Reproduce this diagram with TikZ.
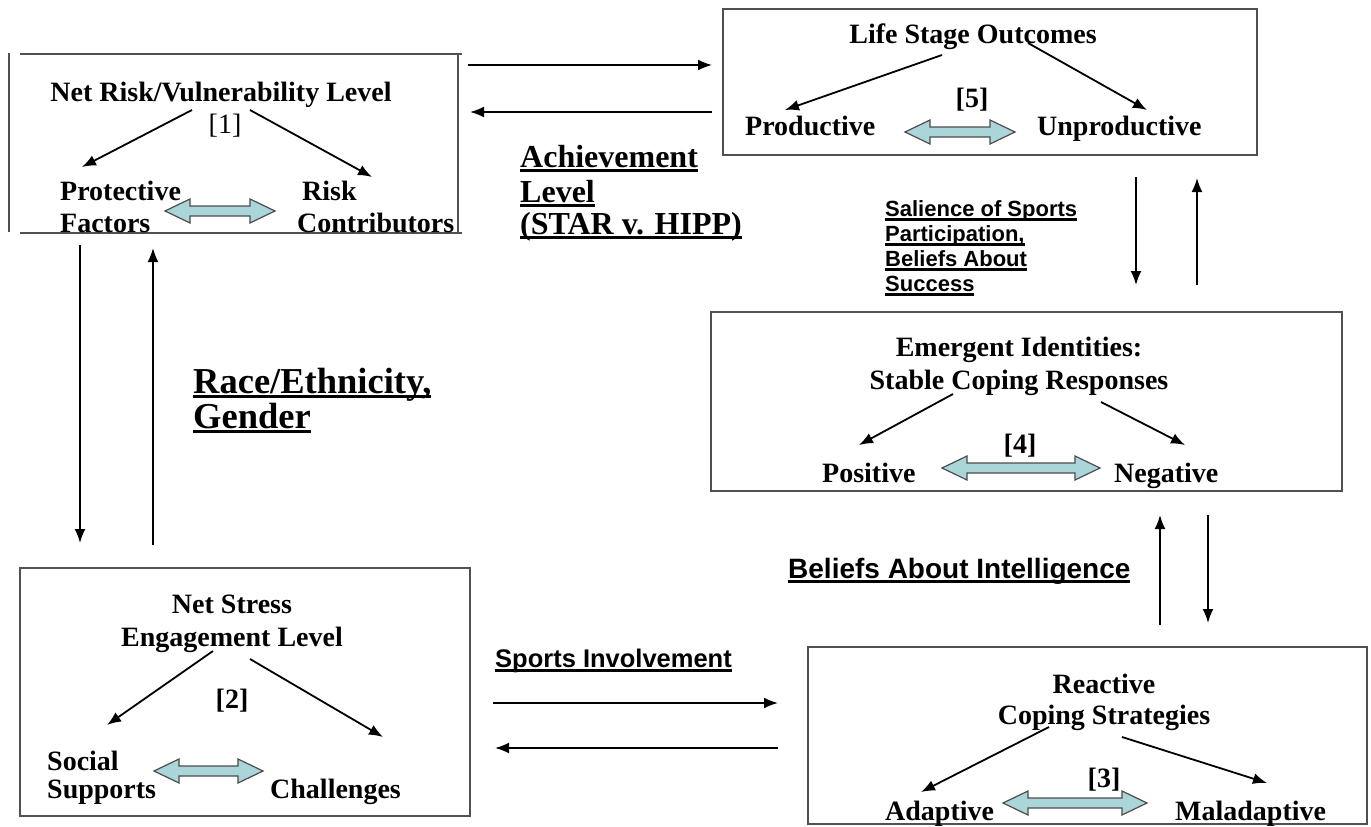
\documentclass[tikz,border=0pt]{standalone}
\usepackage{fontspec}
\setmainfont{Liberation Serif}
\setsansfont{Liberation Sans}
\usetikzlibrary{arrows.meta}
\newcommand{\myul}[1]{\leavevmode\setbox0\hbox{#1}\rlap{\vrule height -2.4pt depth 4.6pt width \wd0}\box0}
\definecolor{blockfill}{RGB}{170,214,218}
\definecolor{boxgray}{RGB}{80,80,80}
% x0, x1, y
\newcommand{\blockarrow}[3]{%
  \draw[blockarr] (#1,#3) -- (#1+25,#3-12) -- (#1+25,#3-5) -- (#2-25,#3-5) -- (#2-25,#3-12) -- (#2,#3)
   -- (#2-25,#3+12) -- (#2-25,#3+5) -- (#1+25,#3+5) -- (#1+25,#3+12) -- cycle;}
\begin{document}
\begin{tikzpicture}[x=1pt,y=-1pt,
  boxline/.style={draw=boxgray, line width=1.8pt},
  boxnode/.style={boxline, rectangle, inner sep=0pt},
  arr/.style={line width=1.8pt, -{Latex[length=14pt,width=11pt]}},
  blockarr/.style={draw=black!70, line width=1.2pt, fill=blockfill, line join=miter},
  ttl/.style={font=\fontsize{28}{34}\selectfont\bfseries, inner sep=0pt, anchor=base},
  lbl/.style={font=\fontsize{28}{34}\selectfont\bfseries, inner sep=0pt, anchor=base west},
  num/.style={font=\fontsize{28}{34}\selectfont, inner sep=0pt, anchor=base},
  serlab/.style={inner sep=0pt, anchor=base west},
  sanslab/.style={inner sep=0pt, anchor=base west}
]
\useasboundingbox (0,0) rectangle (1371,827);

% ---------- Box 1: Net Risk ----------
\node[inner sep=0pt, minimum width=438pt, minimum height=179pt] (b1) at (239,143.5) {};
\draw[boxline] (20,54) -- (462,54);
\draw[boxline] (20,233) -- (462,233);
\draw[boxline] (9,53) -- (9,232);
\draw[boxline] (458,53) -- (458,233);
\node[ttl] (b1t) at (221,101) {Net Risk/Vulnerability Level};
\node[num] (b1n) at (225,133) {[1]};
\node[lbl] (b1l1) at (60,200) {Protective};
\node[lbl] (b1l2) at (60,232) {Factors};
\node[lbl] (b1r1) at (302,200) {Risk};
\node[lbl] (b1r2) at (297,232) {Contributors};
\coordinate (b1a1) at (192,110); \coordinate (b1a2) at (82,167);
\coordinate (b1a3) at (250,110); \coordinate (b1a4) at (372,177);
\draw[arr] (b1a1) -- (b1a2);
\draw[arr] (b1a3) -- (b1a4);
\blockarrow{165}{275}{211}

% ---------- Box 2: Life Stage ----------
\node[boxnode, minimum width=534pt, minimum height=146pt] (b2) at (990,82) {};
\node[ttl] (b2t) at (973,43) {Life Stage Outcomes};
\node[ttl] (b2n) at (972,107) {[5]};
\node[lbl] (b2l) at (745,135) {Productive};
\node[lbl] (b2r) at (1037,135) {Unproductive};
\coordinate (b2a1) at (942,55); \coordinate (b2a2) at (785,110);
\coordinate (b2a3) at (1028,43); \coordinate (b2a4) at (1147,110);
\draw[arr] (b2a1) -- (b2a2);
\draw[arr] (b2a3) -- (b2a4);
\blockarrow{905}{1015}{132}

% ---------- Box 3: Emergent Identities ----------
\node[boxnode, minimum width=631pt, minimum height=179pt] (b3) at (1026.5,401.5) {};
\node[ttl] (b3t1) at (1019,356) {Emergent Identities:};
\node[ttl] (b3t2) at (1019,389) {Stable Coping Responses};
\node[ttl] (b3n) at (1020,453) {[4]};
\node[lbl] (b3l) at (822,482) {Positive};
\node[lbl] (b3r) at (1114,482) {Negative};
\coordinate (b3a1) at (953,394); \coordinate (b3a2) at (859,445);
\coordinate (b3a3) at (1101,402); \coordinate (b3a4) at (1185,445);
\draw[arr] (b3a1) -- (b3a2);
\draw[arr] (b3a3) -- (b3a4);
\blockarrow{942}{1100}{468}

% ---------- Box 4: Net Stress ----------
\node[boxnode, minimum width=450pt, minimum height=248pt] (b4) at (245,692) {};
\node[ttl] (b4t1) at (232,613) {Net Stress};
\node[ttl] (b4t2) at (232,646) {Engagement Level};
\node[ttl] (b4n) at (232,708) {[2]};
\node[lbl] (b4l1) at (47,770) {Social};
\node[lbl] (b4l2) at (47,798) {Supports};
\node[lbl] (b4r) at (270,798) {Challenges};
\coordinate (b4a1) at (213,651); \coordinate (b4a2) at (107,725);
\coordinate (b4a3) at (250,659); \coordinate (b4a4) at (383,737);
\draw[arr] (b4a1) -- (b4a2);
\draw[arr] (b4a3) -- (b4a4);
\blockarrow{154}{263}{771}

% ---------- Box 5: Reactive Coping ----------
\node[boxnode, minimum width=559pt, minimum height=177pt] (b5) at (1087.5,735.5) {};
\node[ttl] (b5t1) at (1104,693) {Reactive};
\node[ttl] (b5t2) at (1104,724) {Coping Strategies};
\node[ttl] (b5n) at (1104,787) {[3]};
\node[lbl] (b5l) at (885,820) {Adaptive};
\node[lbl] (b5r) at (1175,820) {Maladaptive};
\coordinate (b5a1) at (1049,727); \coordinate (b5a2) at (921,792);
\coordinate (b5a3) at (1122,737); \coordinate (b5a4) at (1267,783);
\draw[arr] (b5a1) -- (b5a2);
\draw[arr] (b5a3) -- (b5a4);
\blockarrow{1003}{1147}{803}

% ---------- Connectors between boxes ----------
\coordinate (c1a) at (468,65);  \coordinate (c1b) at (712,65);
\coordinate (c2a) at (712,112); \coordinate (c2b) at (470,112);
\coordinate (c3a) at (80,245);  \coordinate (c3b) at (80,543);
\coordinate (c4a) at (153,545); \coordinate (c4b) at (153,248);
\coordinate (c5a) at (1136,177); \coordinate (c5b) at (1136,285);
\coordinate (c6a) at (1197,285); \coordinate (c6b) at (1197,178);
\coordinate (c7a) at (1160,625); \coordinate (c7b) at (1160,515);
\coordinate (c8a) at (1208,515); \coordinate (c8b) at (1208,623);
\coordinate (c9a) at (493,703); \coordinate (c9b) at (778,703);
\coordinate (c10a) at (778,748); \coordinate (c10b) at (495,748);
\foreach \s/\e in {c1a/c1b,c2a/c2b,c3a/c3b,c4a/c4b,c5a/c5b,c6a/c6b,c7a/c7b,c8a/c8b,c9a/c9b,c10a/c10b}
  \draw[arr] (\s) -- (\e);

% ---------- Labels ----------
\node[serlab, font=\fontsize{32}{35}\selectfont\bfseries] (ach1) at (520,167) {\myul{Achievement}};
\node[serlab, font=\fontsize{32}{35}\selectfont\bfseries] (ach2) at (520,202) {\myul{Level}};
\node[serlab, font=\fontsize{32}{35}\selectfont\bfseries] (ach3) at (520,234) {\myul{(STAR v. HIPP)}};
\node[serlab, font=\fontsize{36.5}{38}\selectfont\bfseries] (race1) at (193,393) {\myul{Race/Ethnicity,}};
\node[serlab, font=\fontsize{36.5}{38}\selectfont\bfseries] (race2) at (193,428) {\myul{Gender}};
\node[sanslab, font=\fontsize{22}{25}\selectfont\sffamily\bfseries] (sal1) at (885,216) {\myul{Salience of Sports}};
\node[sanslab, font=\fontsize{22}{25}\selectfont\sffamily\bfseries] (sal2) at (885,241) {\myul{Participation,}};
\node[sanslab, font=\fontsize{22}{25}\selectfont\sffamily\bfseries] (sal3) at (885,266) {\myul{Beliefs About}};
\node[sanslab, font=\fontsize{22}{25}\selectfont\sffamily\bfseries] (sal4) at (885,291) {\myul{Success}};
\node[sanslab, font=\fontsize{28}{32}\selectfont\sffamily\bfseries] (bai) at (788,578) {\myul{Beliefs About Intelligence}};
\node[sanslab, font=\fontsize{25.5}{30}\selectfont\sffamily\bfseries] (spi) at (495,667) {\myul{Sports Involvement}};
\end{tikzpicture}
\end{document}
